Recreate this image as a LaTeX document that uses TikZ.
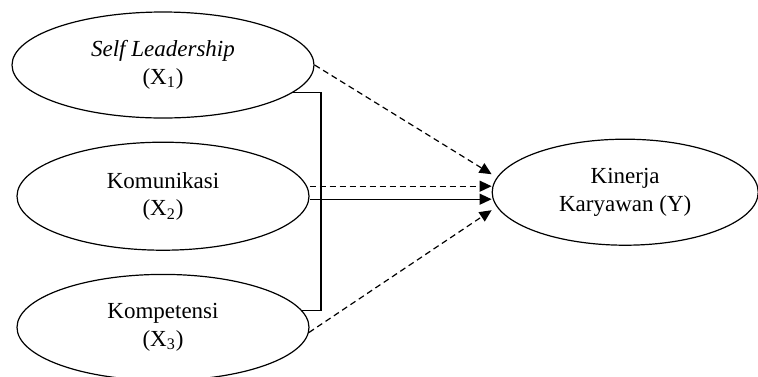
\documentclass[tikz,border=0pt]{standalone}
\usepackage{fontspec}
\setmainfont{Liberation Serif}
\usetikzlibrary{shapes.geometric, arrows.meta, positioning}
\tikzstyle{latent} = [ellipse, draw, line width=0.6pt, minimum width=146pt, minimum height=53pt, text centered, font=\fontsize{11.5}{13.7}\selectfont]
\tikzstyle{link} = [line width=0.6pt, -{Triangle[length=6pt,width=5.5pt]}]
\tikzstyle{hyp} = [link, dash pattern=on 3pt off 2pt]

\begin{document}
\begin{tikzpicture}[align=center, node distance=11.5pt]
  \useasboundingbox (-81.5pt,32.5pt) rectangle ++(379pt,-188pt);
  \node (sl) [latent, minimum width=151pt] at (0,0) {\textit{Self Leadership}\\(X\textsubscript{1})};
  \node (kom) [latent, below = of sl, minimum height=54pt] {Komunikasi\\(X\textsubscript{2})};
  \node (komp) [latent, below = of kom] {Kompetensi\\(X\textsubscript{3})};
  \node (kin) [latent, right = 91pt of kom, yshift=2pt, minimum width=133pt] {Kinerja\\Karyawan (Y)};
  \coordinate (in1) at ([yshift=9pt]kin.west);
  \coordinate (in2) at ([yshift=3pt]kin.west);
  \coordinate (in3) at ([yshift=-3.5pt]kin.west);
  \coordinate (in4) at ([yshift=-9pt]kin.west);
  \draw [line width=0.6pt] (sl.-12) -- ++(14pt,0) |- (komp.7);
  \draw [hyp] (sl.east) -- (in1);
  \draw [hyp] (kom.east |- in2) -- (in2);
  \draw [link] (kom.east |- in3) -- (in3);
  \draw [hyp] (komp.-2) -- (in4);
\end{tikzpicture}
\end{document}
